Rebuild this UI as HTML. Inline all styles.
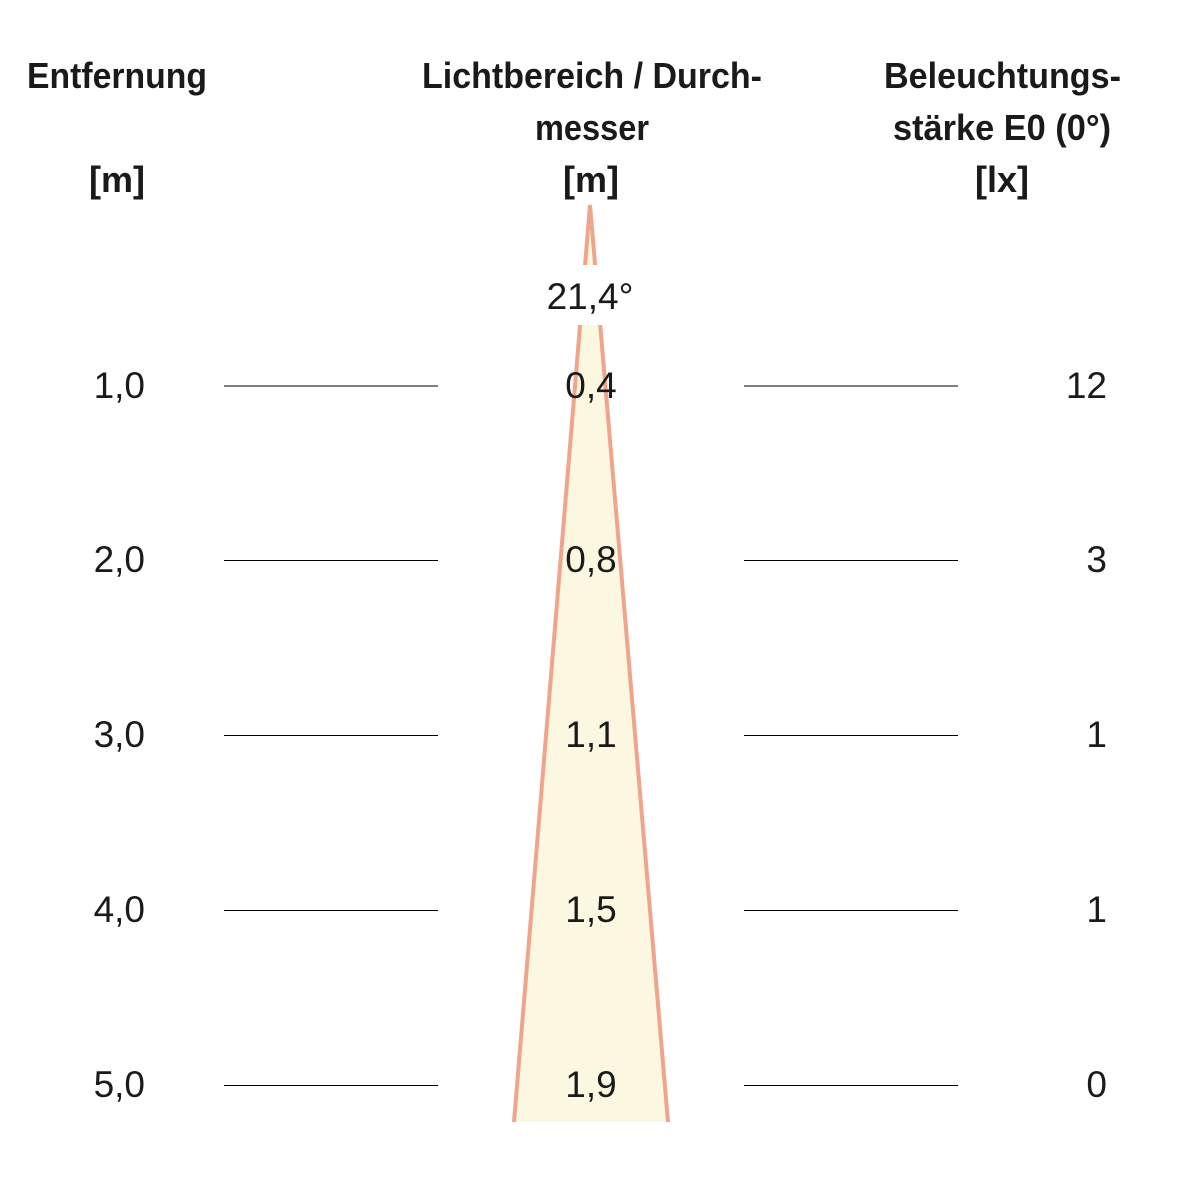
<!DOCTYPE html>
<html><head><meta charset="utf-8"><style>html,body{margin:0;padding:0;background:#fff}svg{display:block}</style></head>
<body>
<svg width="1182" height="1182" viewBox="0 0 1182 1182" xmlns="http://www.w3.org/2000/svg" font-family="'Liberation Sans Narrow','Liberation Sans',sans-serif" fill="#1a1a1a">
<polygon points="590,205 514,1122 668,1122" fill="#fcf7e0"/>
<polyline points="514,1122 590,205 668,1122" fill="none" stroke="#f0a48c" stroke-width="4" stroke-linejoin="miter"/>
<rect x="500" y="265" width="180" height="60" fill="#fff"/>
<g stroke="#000" stroke-width="1">
<line x1="224" y1="386" x2="438" y2="386"/><line x1="744" y1="386" x2="958" y2="386"/>
<line x1="224" y1="560.5" x2="438" y2="560.5"/><line x1="744" y1="560.5" x2="958" y2="560.5"/>
<line x1="224" y1="735.5" x2="438" y2="735.5"/><line x1="744" y1="735.5" x2="958" y2="735.5"/>
<line x1="224" y1="910.5" x2="438" y2="910.5"/><line x1="744" y1="910.5" x2="958" y2="910.5"/>
<line x1="224" y1="1085.5" x2="438" y2="1085.5"/><line x1="744" y1="1085.5" x2="958" y2="1085.5"/>
</g>
<g font-weight="bold" font-size="36">
<text x="27" y="88" textLength="180" lengthAdjust="spacingAndGlyphs">Entfernung</text>
<text x="117" y="192" text-anchor="middle">[m]</text>
<text x="422" y="88" textLength="340" lengthAdjust="spacingAndGlyphs">Lichtbereich / Durch-</text>
<text x="535" y="140" textLength="114" lengthAdjust="spacingAndGlyphs">messer</text>
<text x="591" y="192" text-anchor="middle">[m]</text>
<text x="884" y="88" textLength="237" lengthAdjust="spacingAndGlyphs">Beleuchtungs-</text>
<text x="893" y="140" textLength="218" lengthAdjust="spacingAndGlyphs">stärke E0 (0°)</text>
<text x="1002" y="192" text-anchor="middle">[lx]</text>
</g>
<g font-size="37">
<text x="590" y="309" text-anchor="middle">21,4°</text>
<text x="145" y="398" text-anchor="end">1,0</text>
<text x="145" y="572" text-anchor="end">2,0</text>
<text x="145" y="747" text-anchor="end">3,0</text>
<text x="145" y="922" text-anchor="end">4,0</text>
<text x="145" y="1097" text-anchor="end">5,0</text>
<text x="591" y="398" text-anchor="middle">0,4</text>
<text x="591" y="572" text-anchor="middle">0,8</text>
<text x="591" y="747" text-anchor="middle">1,1</text>
<text x="591" y="922" text-anchor="middle">1,5</text>
<text x="591" y="1097" text-anchor="middle">1,9</text>
<text x="1107" y="398" text-anchor="end">12</text>
<text x="1107" y="572" text-anchor="end">3</text>
<text x="1107" y="747" text-anchor="end">1</text>
<text x="1107" y="922" text-anchor="end">1</text>
<text x="1107" y="1097" text-anchor="end">0</text>
</g>
</svg>
</body></html>
